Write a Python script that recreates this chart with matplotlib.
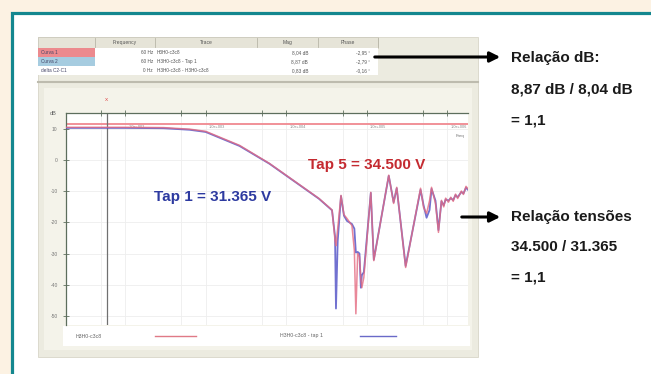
import matplotlib
matplotlib.use("Agg")
import matplotlib.pyplot as plt
from matplotlib.patches import Rectangle

plt.rcParams['font.family'] = ['Liberation Sans', 'DejaVu Sans']

# frequency response (Hz / dB)
freq_hz = [18.7, 100, 300, 634, 1000, 2630, 6170, 14500, 25500, 37000,
           40300, 41400, 43500, 47800, 52000, 56600, 65300, 70000, 73100, 77000,
           81000, 84300, 86700, 91800, 112000, 122000, 187000, 215000, 235000, 303000,
           464000, 506000, 551000, 600000, 635000, 711000, 774000, 843000, 900000, 950000,
           1030000, 1100000, 1180000, 1260000, 1340000, 1490000, 1580000, 1700000, 1800000]
tap5_db = [10.6, 10.6, 10.5, 10.0, 9.3, 4.8, -1.0, -7.8, -12.3, -16.0,
           -25.8, -27.5, -22.0, -11.3, -17.5, -18.7, -21.0, -29.0, -49.4, -30.0,
           -31.0, -38.0, -41.0, -37.7, -10.3, -32.3, -4.8, -13.9, -8.7, -34.5,
           -9.0, -15.2, -17.1, -13.0, -8.7, -13.9, -23.2, -12.9, -15.0, -12.2,
           -13.5, -11.9, -13.2, -10.9, -12.3, -9.9, -11.0, -8.4, -9.2]
tap1_db = [10.4, 10.4, 10.3, 9.8, 9.1, 4.6, -1.1, -7.9, -12.4, -16.1,
           -24.5, -47.7, -26.0, -11.5, -17.8, -19.5, -20.5, -22.0, -29.7, -29.5,
           -30.0, -41.0, -37.0, -36.0, -10.5, -32.0, -5.0, -13.5, -9.0, -34.0,
           -9.5, -14.5, -18.5, -16.0, -9.2, -13.0, -22.5, -13.2, -14.5, -12.6,
           -13.0, -12.2, -12.8, -11.2, -11.9, -10.2, -10.7, -8.8, -9.5]
cursor_hz = 60
ref_db = 11.6
y_ticks = [10, 0, -10, -20, -30, -40, -50]
top_ticks = [50, 100, 500, 1000, 5000, 10000, 50000, 100000, 500000, 1000000]
decade_labels = [(100, '1.0e+002'), (1000, '1.0e+003'), (10000, '1.0e+004'),
                 (100000, '1.0e+005'), (1000000, '1.0e+006')]

table_header = ['Frequency', 'Trace', 'Mag', 'Phase']
table_rows = [['Curva 1', '60 Hz', 'H3H0-c3c8', '8,04 dB', '-2,95 °'],
              ['Curva 2', '60 Hz', 'H3H0-c3c8 - Tap 1', '8,87 dB', '-2,79 °'],
              ['delta C2-C1', '0 Hz', 'H3H0-c3c8 - H3H0-c3c8', '0,83 dB', '-0,16 °']]

W, H = 651, 374
fig = plt.figure(figsize=(W / 100, H / 100), dpi=100)
fig.patch.set_facecolor('#fcf2e3')

# background layer in pixel coordinates
bg = fig.add_axes([0, 0, 1, 1])
bg.set_xlim(0, W)
bg.set_ylim(H, 0)
bg.axis('off')
bg.add_patch(Rectangle((12, 13), 660, 400, facecolor='white', edgecolor='#14878f', lw=2.3))

# screenshot panel
bg.add_patch(Rectangle((38, 37), 440, 320, facecolor='#ecebe0', edgecolor='#d8d6c8', lw=0.6))
bg.add_patch(Rectangle((38, 37), 340, 11, facecolor='#e6e4d8', edgecolor='#c8c6b8', lw=0.5))
col_x = [38, 95, 155, 257, 318, 378]
for cx in col_x[1:]:
    bg.plot([cx, cx], [38, 47], color='#b8b6a8', lw=0.6)
for i, name in enumerate(table_header):
    bg.text((col_x[i + 1] + col_x[i + 2]) / 2, 42.5, name, fontsize=3.6,
            color='#555555', ha='center', va='center')
row_colors = ['#ec8a8e', '#a6cce0', 'white']
for r, row in enumerate(table_rows):
    y0 = 48 + r * 9
    bg.add_patch(Rectangle((38, y0), 340, 9, facecolor='white', edgecolor='none'))
    bg.add_patch(Rectangle((38, y0), 57, 9, facecolor=row_colors[r], edgecolor='none'))
    bg.text(41, y0 + 4.5, row[0], fontsize=3.4, color='#444466', va='center')
    bg.text(col_x[2] - 2, y0 + 4.5, row[1], fontsize=3.4, color='#555555', va='center', ha='right')
    bg.text(col_x[2] + 2, y0 + 4.5, row[2], fontsize=3.4, color='#555555', va='center')
    bg.text(col_x[4] - 10, y0 + 4.5, row[3], fontsize=3.4, color='#555555', va='center', ha='right')
    bg.text(col_x[5] - 8, y0 + 4.5, row[4], fontsize=3.4, color='#555555', va='center', ha='right')
bg.plot([38, 478], [82, 82], color='#bdbbae', lw=1.5)

# legend strip and frame of the plot
bg.add_patch(Rectangle((44, 88), 428, 262, facecolor='#f4f3ea', edgecolor='none'))
bg.add_patch(Rectangle((63, 326), 407, 20, facecolor='white', edgecolor='none'))
bg.text(76, 336, 'H3H0-c3c8', fontsize=3.8, color='#666666', va='center')
bg.plot([155, 196], [336, 336], color='#e07a86', lw=1)
bg.text(280, 336, 'H3H0-c3c8 - tap 1', fontsize=3.8, color='#666666', va='center')
bg.plot([360, 396], [336, 336], color='#6a6ac8', lw=1)
bg.text(50, 113, 'dB', fontsize=4, color='#666666', va='center')
bg.text(106, 99, 'x', fontsize=4.5, color='#e05050', ha='center', va='center')

# the chart itself
ax = fig.add_axes([66 / W, 1 - 325 / H, 402 / W, 212 / H])
ax.set_facecolor('white')
ax.set_xscale('log')
ax.set_xlim(18.5, 1.8e6)
ax.set_ylim(-53, 15.2)
for t in top_ticks:
    ax.axvline(t, color='#eeeeee', lw=0.6, zorder=0)
for t in y_ticks:
    ax.axhline(t, color='#eeeeee', lw=0.6, zorder=0)
ax.axhline(ref_db, color='#f08890', lw=1.3, zorder=2)
ax.axvline(cursor_hz, color='#707070', lw=0.9, zorder=2)
ax.plot(freq_hz, tap1_db, color='#5858c8', lw=1.3, alpha=0.85, zorder=3)
ax.plot(freq_hz, tap5_db, color='#e46a80', lw=1.1, alpha=0.8, zorder=4)
for f, lab in decade_labels:
    ax.text(f * 1.1, 11.2, lab, fontsize=2.8, color='#888888', va='top')
ax.text(1.25e6, 8.5, 'Freq', fontsize=3.2, color='#777777', va='top')

ax.set_xticks(top_ticks)
ax.set_xticklabels([])
ax.minorticks_off()
ax.xaxis.tick_top()
ax.tick_params(axis='x', direction='inout', length=4, color='#607060', width=0.6)
ax.set_yticks(y_ticks)
ax.set_yticklabels([str(v) for v in y_ticks], fontsize=3.6, color='#777777')
ax.tick_params(axis='y', direction='inout', length=4, color='#607060', width=0.6, pad=4)
for side in ['right', 'bottom']:
    ax.spines[side].set_visible(False)
for side in ['left', 'top']:
    ax.spines[side].set_color('#5d6e5d')
    ax.spines[side].set_linewidth(0.9)

ax.text(0.22, 0.605, 'Tap 1 = 31.365 V', transform=ax.transAxes, fontsize=11,
        fontweight='bold', color='#2d3aa0', va='center')
ax.text(0.601, 0.755, 'Tap 5 = 34.500 V', transform=ax.transAxes, fontsize=11,
        fontweight='bold', color='#c42a30', va='center')

# annotations on top
ov = fig.add_axes([0, 0, 1, 1], zorder=10)
ov.set_xlim(0, W)
ov.set_ylim(H, 0)
ov.axis('off')
ov.patch.set_alpha(0)
arrow = dict(arrowstyle='-|>,head_length=0.6,head_width=0.3', color='black', lw=2.2)
ov.annotate('', xy=(503, 57), xytext=(372, 57), arrowprops=arrow)
ov.annotate('', xy=(503, 217), xytext=(459, 217), arrowprops=arrow)
notes = [(58, 'Relação dB:'), (89, '8,87 dB / 8,04 dB'), (120, '= 1,1'),
         (217, 'Relação tensões'), (247, '34.500 / 31.365'), (278, '= 1,1')]
for y, s in notes:
    ov.text(511, y, s, fontsize=11, fontweight='bold', color='#1a1a1a', va='center')

fig.savefig('out.png', dpi=100)
